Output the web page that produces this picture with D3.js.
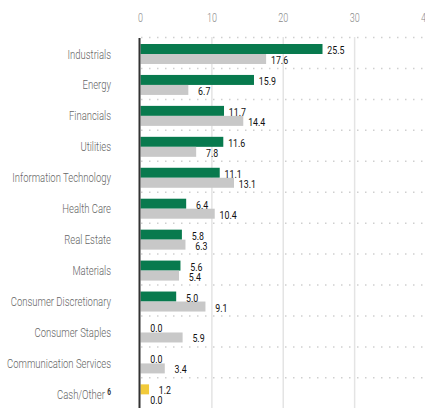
<!DOCTYPE html>
<html><head><meta charset="utf-8">
<script src="https://cdn.jsdelivr.net/npm/d3@7"></script>
<style>
html,body{margin:0;padding:0;background:#fff;}
svg{display:block;}
text{font-family:"Roboto","Liberation Sans",sans-serif;}
</style></head>
<body><svg id="chart" width="425" height="408"></svg>
<script>
const categories = ["Industrials","Energy","Financials","Utilities","Information Technology","Health Care","Real Estate","Materials","Consumer Discretionary","Consumer Staples","Communication Services","Cash/Other"];
const fundValues = [25.5,15.9,11.7,11.6,11.1,6.4,5.8,5.6,5.0,0.0,0.0,1.2];
const benchValues = [17.6,6.7,14.4,7.8,13.1,10.4,6.3,5.4,9.1,5.9,3.4,0.0];
const tickValues = [0,10,20,30,40];
const footnotes = {"Cash/Other":"6"};

const svg = d3.select("#chart");
const W = 425, H = 408;
const x = d3.scaleLinear().domain([0,40]).range([140.5,426]);
const y = d3.scaleBand().domain(categories).range([37,408.3]).padding(0);
const pos = (px,py,s)=>`translate(${px},${py}) scale(${s},1)`;

// horizontal dotted lines
svg.append("g").selectAll("line").data(categories).join("line")
  .attr("x1",141).attr("x2",W)
  .attr("y1",d=>y(d)+0.5).attr("y2",d=>y(d)+0.5)
  .attr("stroke","#cfcfcf").attr("stroke-width",1.5)
  .attr("stroke-dasharray","1.5 6.5");

// vertical gridlines
svg.append("g").selectAll("line").data(tickValues.filter(t=>t>0)).join("line")
  .attr("x1",d=>x(d)).attr("x2",d=>x(d))
  .attr("y1",37).attr("y2",H)
  .attr("stroke","#e4e4e4").attr("stroke-width",1.5);

// top tick labels
svg.append("g").selectAll("text").data(tickValues).join("text")
  .attr("transform",d=>pos(x(d),22,0.72))
  .attr("text-anchor","middle").attr("font-size",12.5).attr("font-weight",300)
  .attr("fill","#8a8a8a").text(d=>d);

// bars
const bh = 10, off = 7;
svg.append("g").selectAll("rect").data(categories).join("rect")
  .attr("x",x(0)).attr("y",d=>y(d)+off)
  .attr("width",(d,i)=>x(fundValues[i])-x(0)).attr("height",bh)
  .attr("fill",d=>d==="Cash/Other"?"#f2ca3a":"#087a4e");
svg.append("g").selectAll("rect").data(categories).join("rect")
  .attr("x",x(0)).attr("y",d=>y(d)+off+bh)
  .attr("width",(d,i)=>x(benchValues[i])-x(0)).attr("height",bh)
  .attr("fill","#c8c8c8");

// value labels
svg.append("g").selectAll("text").data(categories).join("text")
  .attr("transform",(d,i)=>pos(x(fundValues[i])+22,y(d)+off+bh,0.8))
  .attr("text-anchor","end").attr("font-size",11).attr("font-weight",400).attr("fill","#111")
  .text((d,i)=>fundValues[i].toFixed(1));
svg.append("g").selectAll("text").data(categories).join("text")
  .attr("transform",(d,i)=>pos(x(benchValues[i])+22,y(d)+off+2*bh,0.8))
  .attr("text-anchor","end").attr("font-size",11).attr("font-weight",400).attr("fill","#111")
  .text((d,i)=>benchValues[i].toFixed(1));

// category labels
const cl = svg.append("g").selectAll("text").data(categories).join("text")
  .attr("transform",d=>pos(111,y(d)+off+bh+4.5,0.73))
  .attr("text-anchor","end").attr("font-size",13).attr("font-weight",300).attr("fill","#666");
cl.each(function(d){
  const t = d3.select(this);
  t.append("tspan").text(d);
  if(footnotes[d]){
    t.append("tspan").text(" ");
    t.append("tspan").attr("font-size",9).attr("font-weight","bold").attr("fill","#333")
      .attr("dy",-4).text(footnotes[d]);
  }
});

// left axis line
svg.append("line").attr("x1",x(0)-1).attr("x2",x(0)-1).attr("y1",38).attr("y2",H)
  .attr("stroke","#333").attr("stroke-width",2);
</script></body></html>
